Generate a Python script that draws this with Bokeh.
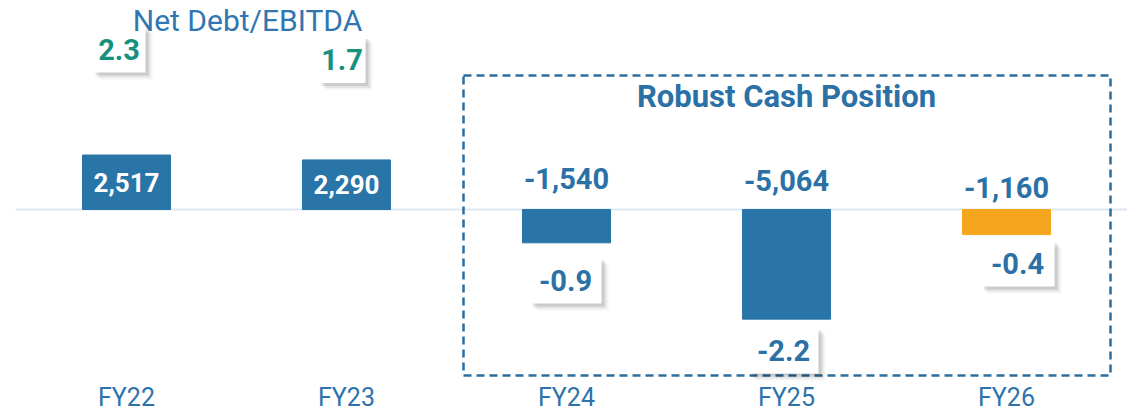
from bokeh.plotting import figure
from bokeh.models import Range1d
from bokeh.core.properties import value
from bokeh.embed import file_html
from bokeh.resources import INLINE

# ---------------- data ----------------
categories = ["FY22", "FY23", "FY24", "FY25", "FY26"]
net_cash = [2517, 2290, -1540, -5064, -1160]          # net debt (+) / net cash (-)
net_debt_ebitda = [2.3, 1.7, -0.9, -2.2, -0.4]
highlight_title = "Robust Cash Position"
ratio_title = "Net Debt/EBITDA"

# ---------------- styles / layout ----------------
BLUE = "#2A75A8"
ORANGE = "#F6A61E"
GREEN = "#17917F"
TEXT_BLUE = "#2B71A6"
FONT = "Roboto"
bar_colors = [BLUE, BLUE, BLUE, BLUE, ORANGE]

W, H = 1127, 414
CAT_PX = 220          # pixels per category
X0 = 126              # pixel x of first category
BASE = 209            # pixel y of zero line (from top)
K = 0.02165           # pixels per data unit


def px_x(dx):
    return dx / CAT_PX


def px_y(dy):
    return dy / K


p = figure(width=W, height=H, output_backend="svg", toolbar_location=None,
           x_range=Range1d(-X0 / CAT_PX, (W - X0) / CAT_PX),
           y_range=Range1d(-(H - BASE) / K, BASE / K),
           min_border=0, outline_line_color=None, background_fill_color="white",
           border_fill_color="white")
p.xaxis.visible = False
p.yaxis.visible = False
p.xgrid.visible = False
p.ygrid.visible = False

idx = list(range(len(categories)))

# zero line
p.segment(x0=[px_x(15 - X0)], x1=[px_x(W - X0)], y0=[0], y1=[0],
          line_color="#DCE8F3", line_width=2)

# dashed highlight box (FY24-FY26)
p.quad(left=[2 - px_x(103)], right=[4 + px_x(104)], top=[px_y(134)], bottom=[px_y(-166)],
       fill_alpha=0, line_color="#2C6D9E", line_width=2.5, line_dash="8 5")
p.text(x=[3], y=[px_y(113)], text=[highlight_title], text_align="center",
       text_baseline="middle", text_color=TEXT_BLUE, text_font=value(FONT),
       text_font_size="31px", text_font_style="bold")

# bars
p.vbar(x=idx, top=net_cash, bottom=0, width=88 / CAT_PX, color=bar_colors)

# value labels
val_labels = [f"{v:,}" for v in net_cash]
pos_i = [i for i, v in enumerate(net_cash) if v > 0]
neg_i = [i for i, v in enumerate(net_cash) if v < 0]
p.text(x=pos_i, y=[net_cash[i] / 2 for i in pos_i], text=[val_labels[i] for i in pos_i],
       text_align="center", text_baseline="middle", text_color="white",
       text_font=value(FONT), text_font_size="26px", text_font_style="bold")
neg_lift = [31, 29, 22]
p.text(x=neg_i, y=[px_y(d) for d in neg_lift], text=[val_labels[i] for i in neg_i],
       text_align="center", text_baseline="middle", text_color=TEXT_BLUE,
       text_font=value(FONT), text_font_size="29px", text_font_style="bold")

# Net Debt / EBITDA boxes
box_dx = [-7.5, -4.5, -1, -3, 11]
box_cy = [49, 59, 280, 350, 263]          # pixel y of box centres
box_w = [53, 47, 72, 70, 74]
box_h = [46, 47, 46, 46, 46]
bx = [i + px_x(d) for i, d in zip(idx, box_dx)]
by = [px_y(BASE - cy) for cy in box_cy]
for off, a in [(7, 0.04), (5, 0.07), (3, 0.10)]:
    p.rect(x=[x + px_x(off) for x in bx], y=[y - px_y(off) for y in by],
           width=box_w, height=box_h, width_units="screen", height_units="screen",
           fill_color="black", fill_alpha=a, line_color=None)
p.rect(x=bx, y=by, width=box_w, height=box_h, width_units="screen", height_units="screen",
       fill_color="white", line_color=None)
ratio_colors = [GREEN if r > 0 else TEXT_BLUE for r in net_debt_ebitda]
p.text(x=bx, y=by, text=[f"{r:.1f}" for r in net_debt_ebitda], text_align="center",
       text_baseline="middle", text_color=ratio_colors, text_font=value(FONT),
       text_font_size="29px", text_font_style="bold")

# ratio title
p.text(x=[px_x(247 - X0)], y=[px_y(BASE - 20)], text=[ratio_title], text_align="center",
       text_baseline="middle", text_color="#3176B0", text_font=value(FONT),
       text_font_size="30px")

# category labels
p.text(x=idx, y=[px_y(BASE - 397)] * len(idx), text=categories, text_align="center",
       text_baseline="middle", text_color="#2E72AC", text_font=value(FONT),
       text_font_size="25px")

open("out.html", "w").write(file_html(p, INLINE))
